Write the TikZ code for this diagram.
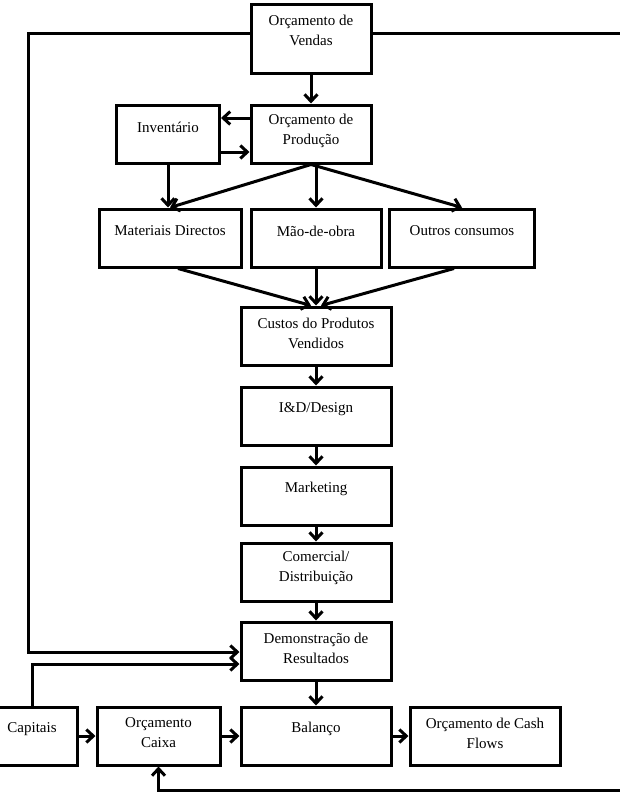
\documentclass[tikz,border=0pt]{standalone}
\usepackage{fontspec}
\setmainfont{Liberation Serif}
\usetikzlibrary{arrows.meta}
\begin{document}
\begin{tikzpicture}[x=1pt,y=-1pt,
  box/.style={draw,line width=3pt,inner sep=0pt},
  lbl/.style={font=\fontsize{15}{20}\selectfont,align=center,inner sep=0pt},
  arr/.style={line width=3pt,-{Straight Barb[length=7pt,width=13pt]}},
  ]
\useasboundingbox (0,0) rectangle (619,800);
% boxes
\node[box,minimum width=120pt,minimum height=68pt] (vendas) at (311,39) {};
\node[box,minimum width=120pt,minimum height=58pt] (prod) at (311,134) {};
\node[box,minimum width=103pt,minimum height=58pt] (inv) at (168,134) {};
\node[box,minimum width=142pt,minimum height=58pt] (mat) at (170,238) {};
\node[box,minimum width=130pt,minimum height=58pt] (mao) at (316,238) {};
\node[box,minimum width=145pt,minimum height=58pt] (out) at (462,238) {};
\node[box,minimum width=150pt,minimum height=58pt] (custos) at (316,336) {};
\node[box,minimum width=150pt,minimum height=58pt] (id) at (316,416) {};
\node[box,minimum width=150pt,minimum height=58pt] (mkt) at (316,496) {};
\node[box,minimum width=150pt,minimum height=58pt] (com) at (316,572) {};
\node[box,minimum width=150pt,minimum height=58pt] (dem) at (316,651) {};
\node[box,minimum width=150pt,minimum height=58pt] (bal) at (316,736) {};
\node[box,minimum width=87pt,minimum height=58pt] (cap) at (33.5,736) {};
\node[box,minimum width=123pt,minimum height=58pt] (caixa) at (158.5,736) {};
\node[box,minimum width=150pt,minimum height=58pt] (cf) at (485,736) {};
% labels
\node[lbl] (vendasT) at (311,30) {Orçamento de\\Vendas};
\node[lbl] (prodT) at (311,131) {Orçamento de\\Produção};
\node[lbl] (invT) at (168,127) {Inventário};
\node[lbl] (matT) at (170,231) {Materiais Directos};
\node[lbl] (maoT) at (316,231) {Mão-de-obra};
\node[lbl] (outT) at (462,231) {Outros consumos};
\node[lbl] (custosT) at (316,333) {Custos do Produtos\\Vendidos};
\node[lbl] (idT) at (316,409) {I\&D/Design};
\node[lbl] (mktT) at (316,489) {Marketing};
\node[lbl] (comT) at (316,568) {Comercial/\\Distribuição};
\node[lbl] (demT) at (316,648) {Demonstração de\\Resultados};
\node[lbl] (balT) at (316,729) {Balanço};
\node[lbl] (capT) at (32,729) {Capitais};
\node[lbl] (caixaT) at (158.5,733) {Orçamento\\Caixa};
\node[lbl] (cfT) at (485,733) {Orçamento de Cash\\Flows};
% connectors
\draw[arr] (vendas) -- (prod);
\draw[arr] ([yshift=16pt]prod.west) -- ([yshift=16pt]inv.east);
\draw[arr] ([yshift=-18pt]inv.east) -- ([yshift=-18pt]prod.west);
\draw[arr] (inv.south) -- (inv.south |- mat.north);
\draw[arr] (prod.south) -- (mat.north);
\draw[arr] (mao.north |- prod.south) -- (mao.north);
\draw[arr] (prod.south) -- (out.north);
\draw[arr] ([xshift=8pt]mat.south) -- ([xshift=-5pt]custos.north);
\draw[arr] (mao.south) -- (custos.north);
\draw[arr] ([xshift=-8pt]out.south) -- ([xshift=5pt]custos.north);
\draw[arr] (custos) -- (id);
\draw[arr] (id) -- (mkt);
\draw[arr] (mkt) -- (com);
\draw[arr] (com) -- (dem);
\draw[arr] (dem) -- (bal);
\draw[arr] (cap) -- (caixa);
\draw[arr] (caixa) -- (bal);
\draw[arr] (bal) -- (cf);
% feedback lines
\coordinate (tl) at (28,34);
\coordinate (bl) at (28,652);
\draw[arr] (vendas.west |- tl) -- (tl) -- (bl) -- (dem.west |- bl);
\coordinate (cp) at (32,664);
\draw[arr] (cap.north -| cp) -- (cp) -- (dem.west |- cp);
\coordinate (tr) at (632,34);
\coordinate (br) at (632,790);
\draw[arr] (vendas.east |- tr) -- (tr) -- (br) -- (caixa.south |- br) -- (caixa.south);
\end{tikzpicture}
\end{document}
